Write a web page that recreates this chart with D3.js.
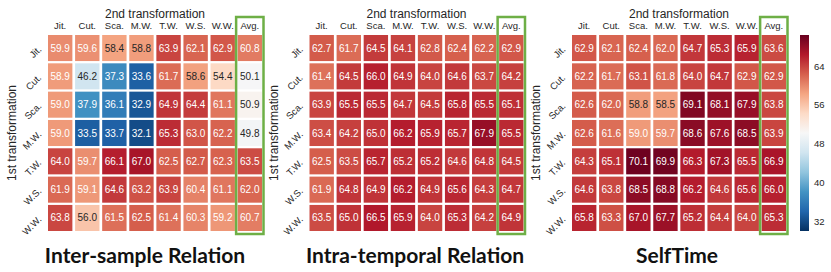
<!DOCTYPE html>
<html>
<head>
<meta charset="utf-8">
<script src="https://cdn.jsdelivr.net/npm/d3@7"></script>
<style>
  body { margin: 0; background: #fff; }
  svg { display: block; font-family: "Liberation Sans", Arial, sans-serif; }
</style>
</head>
<body>
<div id="chart"></div>
<script>
// labels for both axes (7 transformations) plus the average column
const transforms = ["Jit.", "Cut.", "Sca.", "M.W.", "T.W.", "W.S.", "W.W."];
const avgLabel = "Avg.";
const titles = ["Inter-sample Relation", "Intra-temporal Relation", "SelfTime"];
const cbarTicks = [32, 40, 48, 56, 64];

// rows = 1st transformation, cols = 2nd transformation
const interSample = [
  [59.9, 59.6, 58.4, 58.8, 63.9, 62.1, 62.9],
  [58.9, 46.2, 37.3, 33.6, 61.7, 58.6, 54.4],
  [59.0, 37.9, 36.1, 32.9, 64.9, 64.4, 61.1],
  [59.0, 33.5, 33.7, 32.1, 65.3, 63.0, 62.2],
  [64.0, 59.7, 66.1, 67.0, 62.5, 62.7, 62.3],
  [61.9, 59.1, 64.6, 63.2, 63.9, 60.4, 61.1],
  [63.8, 56.0, 61.5, 62.5, 61.4, 60.3, 59.2]
];
const interSampleAvg = [60.8, 50.1, 50.9, 49.8, 63.5, 62.0, 60.7];

const intraTemporal = [
  [62.7, 61.7, 64.5, 64.1, 62.8, 62.4, 62.2],
  [61.4, 64.5, 66.0, 64.9, 64.0, 64.6, 63.7],
  [63.9, 65.5, 65.5, 64.7, 64.5, 65.8, 65.5],
  [63.4, 64.2, 65.0, 66.2, 65.9, 65.7, 67.9],
  [62.5, 63.5, 65.7, 65.2, 65.2, 64.6, 64.8],
  [61.9, 64.8, 64.9, 66.2, 64.9, 65.6, 64.3],
  [63.5, 65.0, 66.5, 65.9, 64.0, 65.3, 64.2]
];
const intraTemporalAvg = [62.9, 64.2, 65.1, 65.5, 64.5, 64.7, 64.9];

const selfTime = [
  [62.9, 62.1, 62.4, 62.0, 64.7, 65.3, 65.9],
  [62.2, 61.7, 63.1, 61.8, 64.0, 64.7, 62.9],
  [62.6, 62.0, 58.8, 58.5, 69.1, 68.1, 67.9],
  [62.6, 61.6, 59.0, 59.7, 68.6, 67.6, 68.5],
  [64.3, 65.1, 70.1, 69.9, 66.3, 67.3, 65.5],
  [64.6, 63.8, 68.5, 68.8, 66.2, 64.6, 65.6],
  [65.8, 63.3, 67.0, 67.7, 65.2, 64.4, 64.0]
];
const selfTimeAvg = [63.6, 62.9, 63.8, 63.9, 66.9, 66.0, 65.3];

const panels = [
  { title: titles[0], vals: interSample, avg: interSampleAvg, x0: 48, titleX: 145 },
  { title: titles[1], vals: intraTemporal, avg: intraTemporalAvg, x0: 309.5, titleX: 415 },
  { title: titles[2], vals: selfTime, avg: selfTimeAvg, x0: 572, titleX: 677 }
];

const W = 831, H = 272;
const vmin = 30, vmax = 70.5;
const gridTop = 35, gridH = 196, gridW = 214;

const svg = d3.select("#chart").append("svg")
    .attr("width", W)
    .attr("height", H);

// matplotlib RdBu_r: the 11 brewer stops, linear between them
const rdbu = ["#053061", "#2166ac", "#4393c3", "#92c5de", "#d1e5f0", "#f7f7f7",
              "#fddbc7", "#f4a582", "#d6604d", "#b2182b", "#67001f"];
const color = d3.scaleLinear()
    .domain(d3.range(rdbu.length).map(i => vmin + i * (vmax - vmin) / (rdbu.length - 1)))
    .range(rdbu)
    .interpolate(d3.interpolateRgb)
    .clamp(true);

// annotation colour from cell luminance
function textColor(v) {
  const c = d3.rgb(color(v));
  const lin = [c.r, c.g, c.b].map(u => {
    u /= 255;
    return u <= 0.03928 ? u / 12.92 : Math.pow((u + 0.055) / 1.055, 2.4);
  });
  const lum = 0.2126 * lin[0] + 0.7152 * lin[1] + 0.0722 * lin[2];
  return lum < 0.44 ? "#fff" : "#262626";
}

const colLabels = transforms.concat([avgLabel]);

panels.forEach(p => {
  const x = d3.scaleBand().domain(colLabels).range([p.x0, p.x0 + gridW]).paddingInner(0.1);
  const y = d3.scaleBand().domain(transforms).range([gridTop, gridTop + gridH]).paddingInner(0.08);
  const g = svg.append("g");

  const cells = [];
  p.vals.forEach((row, i) => {
    row.forEach((v, j) => cells.push({ r: transforms[i], c: transforms[j], v }));
    cells.push({ r: transforms[i], c: avgLabel, v: p.avg[i] });
  });

  g.selectAll("rect.cell")
    .data(cells)
    .join("rect")
      .attr("class", "cell")
      .attr("x", d => x(d.c))
      .attr("y", d => y(d.r))
      .attr("width", x.bandwidth())
      .attr("height", y.bandwidth())
      .attr("fill", d => color(d.v));

  g.selectAll("text.val")
    .data(cells)
    .join("text")
      .attr("class", "val")
      .attr("x", d => x(d.c) + x.bandwidth() / 2)
      .attr("y", d => y(d.r) + y.bandwidth() / 2)
      .attr("dy", "0.35em")
      .attr("text-anchor", "middle")
      .style("font-size", "10px")
      .attr("fill", d => textColor(d.v))
      .text(d => d.v.toFixed(1));

  // column labels on top
  g.selectAll("text.col")
    .data(colLabels)
    .join("text")
      .attr("class", "col")
      .attr("x", d => x(d) + x.bandwidth() / 2)
      .attr("y", 29)
      .attr("text-anchor", "middle")
      .style("font-size", "9.5px")
      .attr("fill", "#262626")
      .text(d => d);

  // rotated row labels
  g.selectAll("text.row")
    .data(transforms)
    .join("text")
      .attr("class", "row")
      .attr("transform", d => `translate(${p.x0 - 6},${y(d) + y.bandwidth() / 2 + 2}) rotate(-45)`)
      .attr("text-anchor", "end")
      .style("font-size", "9.5px")
      .attr("fill", "#262626")
      .text(d => d);

  // highlight box around the average column
  g.append("rect")
    .attr("x", x(avgLabel) - 1.5)
    .attr("y", 17)
    .attr("width", x.bandwidth() + 3)
    .attr("height", gridTop + gridH + 3 - 17)
    .attr("fill", "none")
    .attr("stroke", "#6eaf46")
    .attr("stroke-width", 2.5);

  g.append("text")
    .attr("x", p.x0 + gridW / 2)
    .attr("y", 18)
    .attr("text-anchor", "middle")
    .style("font-size", "12px")
    .attr("fill", "#262626")
    .text("2nd transformation");

  g.append("text")
    .attr("transform", `translate(${p.x0 - 32},${gridTop + gridH / 2}) rotate(-90)`)
    .attr("text-anchor", "middle")
    .style("font-size", "12px")
    .attr("fill", "#262626")
    .text("1st transformation");

  g.append("text")
    .attr("x", p.titleX)
    .attr("y", 263)
    .attr("text-anchor", "middle")
    .style("font-family", "Lato, 'Open Sans', sans-serif")
    .style("font-weight", "bold")
    .style("font-size", "21px")
    .attr("fill", "#111")
    .text(p.title);
});

// colour bar
const cbY = d3.scaleLinear().domain([vmin, vmax]).range([231, 35]);
const defs = svg.append("defs");
const grad = defs.append("linearGradient")
    .attr("id", "cbar")
    .attr("x1", 0).attr("y1", 1).attr("x2", 0).attr("y2", 0);
color.domain().forEach((v, i) => {
  grad.append("stop")
    .attr("offset", (v - vmin) / (vmax - vmin))
    .attr("stop-color", color.range()[i]);
});
svg.append("rect")
  .attr("x", 800)
  .attr("y", cbY(vmax))
  .attr("width", 9)
  .attr("height", cbY(vmin) - cbY(vmax))
  .attr("fill", "url(#cbar)");

svg.selectAll("text.cbt")
  .data(cbarTicks)
  .join("text")
    .attr("class", "cbt")
    .attr("x", 814)
    .attr("y", d => cbY(d))
    .attr("dy", "0.35em")
    .style("font-size", "9.5px")
    .attr("fill", "#262626")
    .text(d => d);
</script>
</body>
</html>
